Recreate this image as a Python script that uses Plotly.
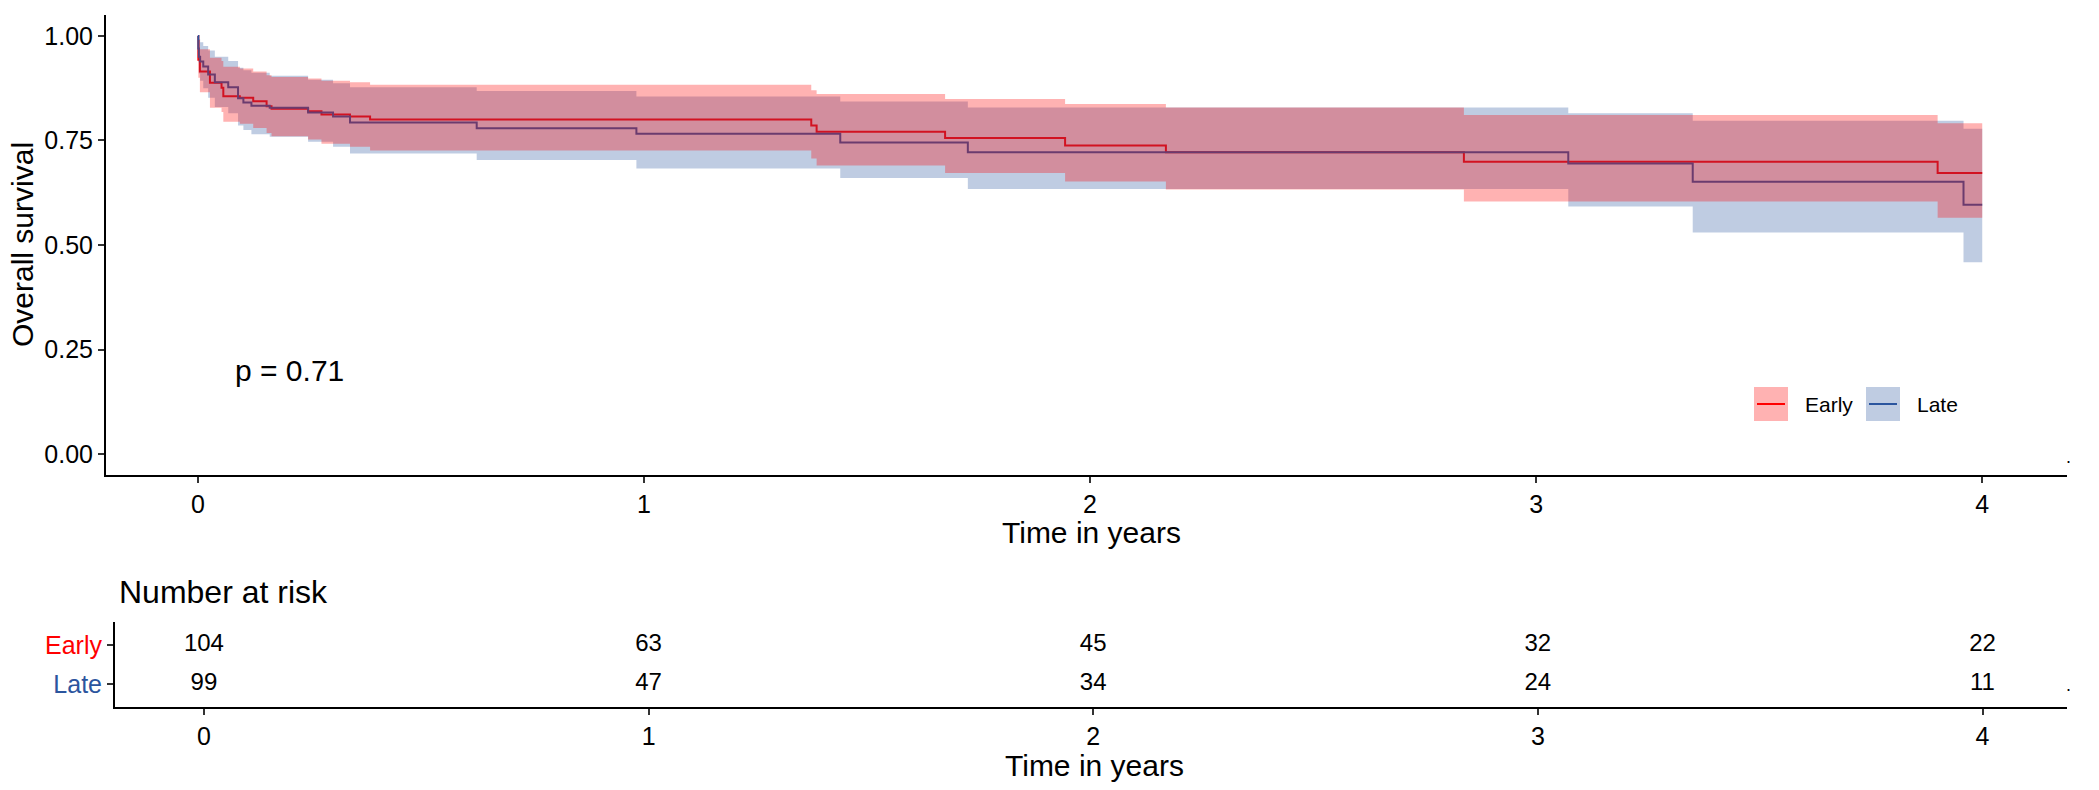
import plotly.graph_objects as go

# Kaplan-Meier estimates (years, survival, 95% CI)
time_early = [0, 0.001, 0.0045, 0.027, 0.053, 0.057, 0.094, 0.124, 0.154, 0.165, 0.247,
              0.277, 0.341, 0.386, 1.375, 1.387, 1.675, 1.944, 2.170, 2.838, 3.900, 4.0]
surv_early = [1.0, 0.943, 0.915, 0.888, 0.876, 0.856, 0.852, 0.844, 0.832, 0.826, 0.820,
              0.812, 0.807, 0.800, 0.786, 0.771, 0.756, 0.738, 0.722, 0.699, 0.672, 0.672]
lower_early = [1.0, 0.900, 0.865, 0.828, 0.818, 0.795, 0.790, 0.780, 0.768, 0.760, 0.752,
               0.742, 0.735, 0.726, 0.707, 0.690, 0.672, 0.652, 0.633, 0.604, 0.565, 0.565]
upper_early = [1.0, 0.990, 0.968, 0.948, 0.940, 0.926, 0.922, 0.915, 0.906, 0.902, 0.898,
               0.893, 0.889, 0.883, 0.870, 0.861, 0.849, 0.837, 0.829, 0.811, 0.791, 0.791]

time_late = [0, 0.001, 0.0022, 0.005, 0.012, 0.023, 0.038, 0.068, 0.090, 0.102, 0.120, 0.161,
             0.247, 0.303, 0.341, 0.625, 0.983, 1.440, 1.726, 3.072, 3.351, 3.958, 4.0]
surv_late = [1.0, 0.970, 0.950, 0.939, 0.927, 0.908, 0.889, 0.877, 0.851, 0.841, 0.833, 0.828,
             0.817, 0.807, 0.793, 0.779, 0.766, 0.745, 0.722, 0.695, 0.651, 0.596, 0.596]
lower_late = [1.0, 0.937, 0.910, 0.893, 0.875, 0.852, 0.830, 0.815, 0.786, 0.775, 0.765, 0.759,
              0.747, 0.735, 0.719, 0.703, 0.683, 0.660, 0.634, 0.592, 0.530, 0.459, 0.459]
upper_late = [1.0, 1.0, 0.992, 0.985, 0.976, 0.965, 0.950, 0.940, 0.924, 0.918, 0.912, 0.905,
              0.895, 0.887, 0.877, 0.868, 0.855, 0.843, 0.829, 0.815, 0.797, 0.778, 0.778]

# number at risk table
risk_times = [0, 1, 2, 3, 4]
risk_early = [104, 63, 45, 32, 22]
risk_late = [99, 47, 34, 24, 11]
groups = ["Early", "Late"]

RED = "#FF0000"
BLUE = "#2B559E"
RED_FILL = "rgba(255,0,0,0.3)"
BLUE_FILL = "rgba(43,85,158,0.3)"
FONT = "Liberation Sans, Arial, sans-serif"

W, H = 2099, 790


def px_x(x):
    return x / W


def px_y(y):
    return (H - y) / H


fig = go.Figure()

# step lines first, ribbons drawn on top of them
fig.add_trace(go.Scatter(x=time_early, y=surv_early, mode="lines",
                         line=dict(color=RED, width=2, shape="hv"), showlegend=False))
fig.add_trace(go.Scatter(x=time_late, y=surv_late, mode="lines",
                         line=dict(color=BLUE, width=2, shape="hv"), showlegend=False))

for t, lo, up, fc in [(time_late, lower_late, upper_late, BLUE_FILL),
                      (time_early, lower_early, upper_early, RED_FILL)]:
    fig.add_trace(go.Scatter(x=t, y=lo, mode="lines", line=dict(width=0, shape="hv"),
                             showlegend=False, hoverinfo="skip"))
    fig.add_trace(go.Scatter(x=t, y=up, mode="lines", line=dict(width=0, shape="hv"),
                             fill="tonexty", fillcolor=fc, showlegend=False, hoverinfo="skip"))

# risk table
fig.add_trace(go.Scatter(x=risk_times, y=[groups[0]] * len(risk_times), mode="text",
                         text=[str(v) for v in risk_early], textposition="middle center",
                         textfont=dict(size=24, color="black", family=FONT),
                         xaxis="x2", yaxis="y2", showlegend=False))
fig.add_trace(go.Scatter(x=risk_times, y=[groups[1]] * len(risk_times), mode="text",
                         text=[str(v) for v in risk_late], textposition="middle center",
                         textfont=dict(size=24, color="black", family=FONT),
                         xaxis="x2", yaxis="y2", showlegend=False))

axis_common = dict(showline=True, linecolor="black", linewidth=2, showgrid=False,
                   zeroline=False, ticks="outside", ticklen=6, tickwidth=1.5,
                   tickcolor="#333333", tickfont=dict(size=25, color="black", family=FONT))

fig.update_layout(
    width=W, height=H, autosize=False,
    margin=dict(l=0, r=0, t=0, b=0),
    paper_bgcolor="white", plot_bgcolor="white",
    font=dict(family=FONT, color="black"),
    xaxis=dict(domain=[px_x(106), px_x(2067)], range=[-0.206, 4.19],
               tickvals=risk_times, anchor="y", **axis_common),
    yaxis=dict(domain=[px_y(475), px_y(15)], range=[-0.05, 1.05],
               tickvals=[0, 0.25, 0.5, 0.75, 1.0], tickformat=".2f", anchor="x",
               **axis_common),
    xaxis2=dict(domain=[px_x(115), px_x(2067)], range=[-0.2, 4.19],
                tickvals=risk_times, anchor="y2", **axis_common),
    yaxis2=dict(domain=[px_y(707), px_y(622)], range=[-0.6, 1.6], anchor="x2",
                type="category", categoryorder="array", categoryarray=["Late", "Early"],
                tickvals=["Early", "Late"],
                ticktext=['<span style="color:%s">Early</span>' % RED,
                          '<span style="color:%s">Late</span>' % BLUE],
                **axis_common),
)

annotations = [
    dict(text="Overall survival", x=px_x(22), y=px_y(245), textangle=-90, font=dict(size=30)),
    dict(text="Time in years", x=px_x(1091), y=px_y(532), font=dict(size=30)),
    dict(text="Time in years", x=px_x(1094), y=px_y(765), font=dict(size=30)),
    dict(text="Number at risk", x=px_x(117), y=px_y(592), xanchor="left", font=dict(size=32)),
    dict(text="p = 0.71", x=0.078, y=0.2, xref="x", yref="y", xanchor="left",
         font=dict(size=30)),
    dict(text="Early", x=px_x(1803), y=px_y(404), xanchor="left", font=dict(size=21)),
    dict(text="Late", x=px_x(1915), y=px_y(404), xanchor="left", font=dict(size=21)),
    dict(text=".", x=px_x(2068), y=px_y(469), yanchor="bottom", font=dict(size=18)),
    dict(text=".", x=px_x(2068), y=px_y(697), yanchor="bottom", font=dict(size=18)),
]
for a in annotations:
    a.setdefault("xref", "paper")
    a.setdefault("yref", "paper")
    a.setdefault("xanchor", "center")
    a.setdefault("yanchor", "middle")
    a["showarrow"] = False
    a["font"] = dict(family=FONT, color="black", **a["font"])
fig.update_layout(annotations=annotations)

# legend keys drawn by hand: filled square with the line through it
shapes = []
for x0, fc, lc in [(1754, RED_FILL, RED), (1866, BLUE_FILL, BLUE)]:
    shapes.append(dict(type="rect", xref="paper", yref="paper",
                       x0=px_x(x0), x1=px_x(x0 + 34), y0=px_y(421), y1=px_y(387),
                       fillcolor=fc, line=dict(width=0), layer="above"))
    shapes.append(dict(type="line", xref="paper", yref="paper",
                       x0=px_x(x0 + 3), x1=px_x(x0 + 31), y0=px_y(404), y1=px_y(404),
                       line=dict(color=lc, width=2), layer="above"))
fig.update_layout(shapes=shapes)

# drop the default page margin so the figure sits at the window origin
fig.write_html("out.html", config={"displayModeBar": False},
               post_script="document.body.style.margin='0';")
